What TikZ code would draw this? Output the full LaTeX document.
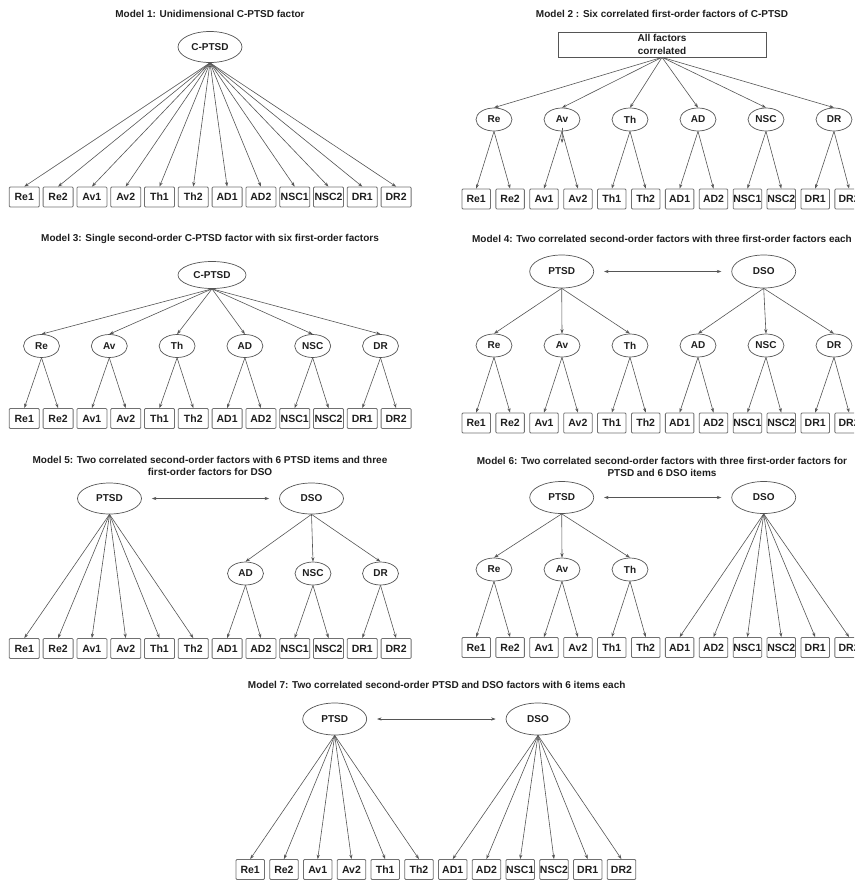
\documentclass[tikz,border=0pt]{standalone}
\usepackage{fontspec}
\setmainfont{Liberation Sans}
\usetikzlibrary{shapes.geometric,arrows.meta}
\definecolor{linec}{HTML}{555555}
\definecolor{boxc}{HTML}{707070}
\definecolor{txt}{HTML}{1E1E1E}
\begin{document}
\begin{tikzpicture}[x=1pt,y=-1pt,
 conn/.style={draw=linec, line width=0.6pt},
 arr/.style={conn, -{Stealth[length=4.5pt,width=3.2pt]}},
 darr/.style={conn, {Stealth[length=4.5pt,width=3.2pt]}-{Stealth[length=4.5pt,width=3.2pt]}, shorten <=10pt, shorten >=10pt},
 title/.style={font=\fontsize{10}{12.3}\selectfont\bfseries, text=txt, align=center, inner sep=0pt},
 item/.style={rectangle, draw=boxc, line width=0.8pt, rounded corners=1pt, minimum height=20pt, minimum width=#1, inner sep=0pt, font=\fontsize{10.5}{12}\selectfont\bfseries, text=txt},
 item/.default=29pt,
 fac/.style={ellipse, draw=linec, line width=0.7pt, minimum width=36pt, minimum height=23pt, inner sep=0pt, font=\fontsize{10}{12}\selectfont\bfseries, text=txt},
 big/.style={fac, minimum width=64pt, minimum height=#1},
 big/.default=31pt,
 corr/.style={rectangle, draw=linec, line width=0.7pt, minimum width=208pt, minimum height=25pt, inner sep=0pt, align=center, font=\fontsize{10}{12.3}\selectfont\bfseries, text=txt}]
\useasboundingbox (0,0) rectangle (854,880);
\clip (0,0) rectangle (854,880);

% ---------------- Model 1 ----------------
\node[title] (t1) at (210,14) {Model 1: Unidimensional C-PTSD factor};
\node[big=31pt] (m1c) at (210,47) {C-PTSD};
\foreach \t [count=\i] in {Re1,Re2,Av1,Av2,Th1,Th2,AD1,AD2,NSC1,NSC2,DR1,DR2}
  \node[item=30pt] (m1b\i) at ({24.3+33.8*(\i-1)},197) {\t};
\foreach \i in {1,...,12} \draw[arr] (m1c.south) -- (m1b\i.north);

% ---------------- Model 2 ----------------
\node[title] (t2) at (662,14) {Model 2 : Six correlated first-order factors of C-PTSD};
\node[corr] (m2r) at (662,44.5) {All factors\\correlated};
\foreach \t [count=\j] in {Re,Av,Th,AD,NSC,DR}
  \node[fac] (m2f\j) at ({494+68*(\j-1)},119.5) {\t};
\foreach \t [count=\i] in {Re1,Re2,Av1,Av2,Th1,Th2,AD1,AD2,NSC1,NSC2,DR1,DR2}
  \node[item=28.5pt] (m2b\i) at ({476.2+33.9*(\i-1)},199) {\t};
\foreach \j in {1,...,6} {
  \pgfmathtruncatemacro\ka{2*\j-1}\pgfmathtruncatemacro\kb{2*\j}
  \draw[arr] (m2r.south) -- (m2f\j.north);
  \draw[arr] (m2f\j.south) -- (m2b\ka.north);
  \draw[arr] (m2f\j.south) -- (m2b\kb.north);
}
\coordinate (m2avs) at (562.5,128);
\coordinate (m2ave) at (562,143);
\draw[arr] (m2avs) -- (m2ave);

% ---------------- Model 3 ----------------
\node[title] (t3) at (210,239) {Model 3: Single second-order C-PTSD factor with six first-order factors};
\node[big=27pt, minimum width=68pt] (m3c) at (212,275) {C-PTSD};
\foreach \t [count=\j] in {Re,Av,Th,AD,NSC,DR}
  \node[fac] (m3f\j) at ({41.5+67.8*(\j-1)},346) {\t};
\foreach \t [count=\i] in {Re1,Re2,Av1,Av2,Th1,Th2,AD1,AD2,NSC1,NSC2,DR1,DR2}
  \node[item=30pt] (m3b\i) at ({24.3+33.8*(\i-1)},418.5) {\t};
\foreach \j in {1,...,6} {
  \pgfmathtruncatemacro\ka{2*\j-1}\pgfmathtruncatemacro\kb{2*\j}
  \draw[arr] (m3c.south) -- (m3f\j.north);
  \draw[arr] (m3f\j.south) -- (m3b\ka.north);
  \draw[arr] (m3f\j.south) -- (m3b\kb.north);
}

% ---------------- Model 4 ----------------
\node[title] (t4) at (662,239) {Model 4: Two correlated second-order factors with three first-order factors each};
\node[big=33pt] (m4p) at (561.7,271.5) {PTSD};
\node[big=33pt] (m4d) at (763.7,271.5) {DSO};
\draw[darr] (m4p.east) -- (m4d.west);
\foreach \t [count=\j] in {Re,Av,Th,AD,NSC,DR}
  \node[fac] (m4f\j) at ({494+68*(\j-1)},345.5) {\t};
\foreach \t [count=\i] in {Re1,Re2,Av1,Av2,Th1,Th2,AD1,AD2,NSC1,NSC2,DR1,DR2}
  \node[item=28.5pt] (m4b\i) at ({476.2+33.9*(\i-1)},423) {\t};
\foreach \j in {1,2,3} \draw[arr] (m4p.south) -- (m4f\j.north);
\foreach \j in {4,5,6} \draw[arr] (m4d.south) -- (m4f\j.north);
\foreach \j in {1,...,6} {
  \pgfmathtruncatemacro\ka{2*\j-1}\pgfmathtruncatemacro\kb{2*\j}
  \draw[arr] (m4f\j.south) -- (m4b\ka.north);
  \draw[arr] (m4f\j.south) -- (m4b\kb.north);
}

% ---------------- Model 5 ----------------
\node[title] (t5) at (210,466) {Model 5: Two correlated second-order factors with 6 PTSD items and three\\first-order factors for DSO};
\node[big=31pt] (m5p) at (109.5,498.5) {PTSD};
\node[big=31pt] (m5d) at (311.5,498.5) {DSO};
\draw[darr] (m5p.east) -- (m5d.west);
\foreach \t [count=\j from 4] in {AD,NSC,DR}
  \node[fac] (m5f\j) at ({245.5+67.5*(\j-4)},573.5) {\t};
\foreach \t [count=\i] in {Re1,Re2,Av1,Av2,Th1,Th2,AD1,AD2,NSC1,NSC2,DR1,DR2}
  \node[item=30pt] (m5b\i) at ({24.3+33.8*(\i-1)},648.5) {\t};
\foreach \i in {1,...,6} \draw[arr] (m5p.south) -- (m5b\i.north);
\foreach \j in {4,5,6} {
  \pgfmathtruncatemacro\ka{2*\j-1}\pgfmathtruncatemacro\kb{2*\j}
  \draw[arr] (m5d.south) -- (m5f\j.north);
  \draw[arr] (m5f\j.south) -- (m5b\ka.north);
  \draw[arr] (m5f\j.south) -- (m5b\kb.north);
}

% ---------------- Model 6 ----------------
\node[title] (t6) at (662,467) {Model 6: Two correlated second-order factors with three first-order factors for\\PTSD and 6 DSO items};
\node[big=32pt] (m6p) at (561.7,497.5) {PTSD};
\node[big=32pt] (m6d) at (763.7,497.5) {DSO};
\draw[darr] (m6p.east) -- (m6d.west);
\foreach \t [count=\j] in {Re,Av,Th}
  \node[fac] (m6f\j) at ({494+68*(\j-1)},569.5) {\t};
\foreach \t [count=\i] in {Re1,Re2,Av1,Av2,Th1,Th2,AD1,AD2,NSC1,NSC2,DR1,DR2}
  \node[item=28.5pt] (m6b\i) at ({476.2+33.9*(\i-1)},647.5) {\t};
\foreach \j in {1,2,3} {
  \pgfmathtruncatemacro\ka{2*\j-1}\pgfmathtruncatemacro\kb{2*\j}
  \draw[arr] (m6p.south) -- (m6f\j.north);
  \draw[arr] (m6f\j.south) -- (m6b\ka.north);
  \draw[arr] (m6f\j.south) -- (m6b\kb.north);
}
\foreach \i in {7,...,12} \draw[arr] (m6d.south) -- (m6b\i.north);

% ---------------- Model 7 ----------------
\node[title] (t7) at (436.7,685) {Model 7: Two correlated second-order PTSD and DSO factors with 6 items each};
\node[big=32pt] (m7p) at (334.7,719) {PTSD};
\node[big=32pt] (m7d) at (538,719) {DSO};
\draw[darr] (m7p.east) -- (m7d.west);
\foreach \t [count=\i] in {Re1,Re2,Av1,Av2,Th1,Th2,AD1,AD2,NSC1,NSC2,DR1,DR2}
  \node[item=28.5pt] (m7b\i) at ({250.2+33.75*(\i-1)},869.5) {\t};
\foreach \i in {1,...,6} \draw[arr] (m7p.south) -- (m7b\i.north);
\foreach \i in {7,...,12} \draw[arr] (m7d.south) -- (m7b\i.north);
\end{tikzpicture}
\end{document}
